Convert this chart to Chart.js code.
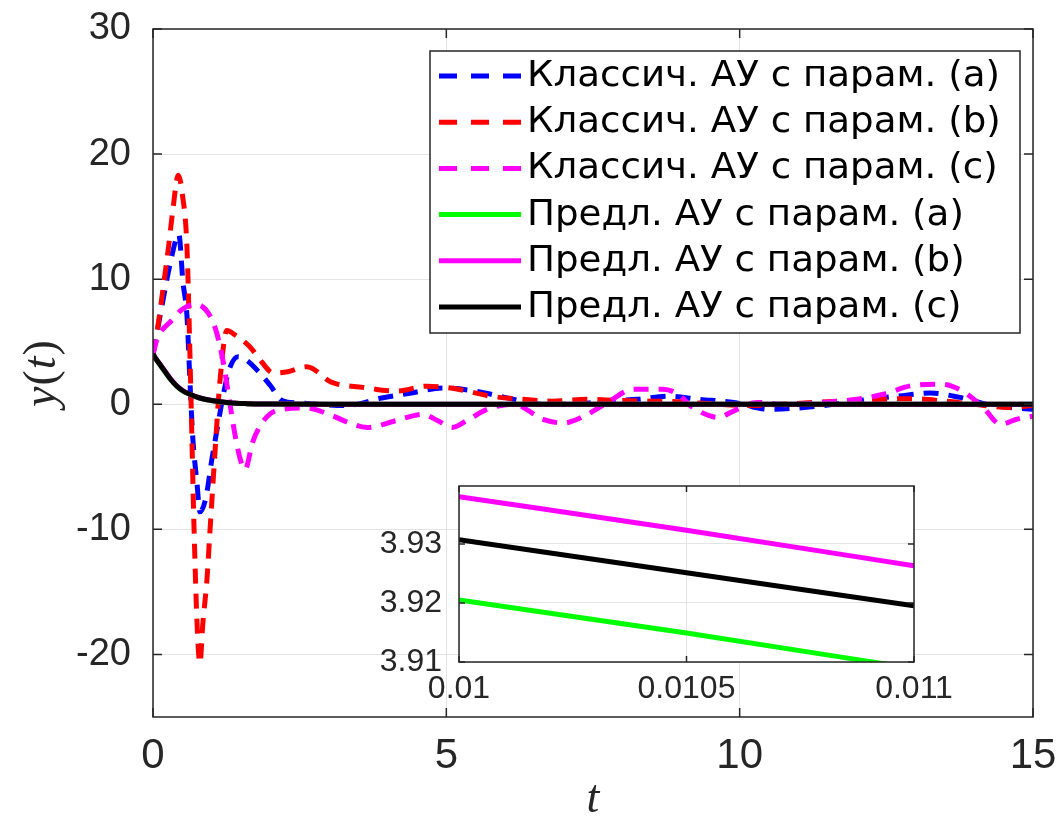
<!DOCTYPE html>
<html>
<head>
<meta charset="utf-8">
<script src="https://cdn.jsdelivr.net/npm/chart.js@4.4.0/dist/chart.umd.min.js"></script>
<style>
html,body{margin:0;padding:0;background:#fff;}
#wrap{position:relative;width:1056px;height:820px;overflow:hidden;}
#main{position:absolute;left:0;top:0;}
#inset{position:absolute;left:370px;top:470px;}
</style>
</head>
<body>
<div id="wrap">
<canvas id="main" width="1056" height="820"></canvas>
<canvas id="inset" width="620" height="250"></canvas>
</div>
<script>
// ---------------- data ----------------
const xTicks = [0, 5, 10, 15];
const yTicks = [-20, -10, 0, 10, 20, 30];

const seriesLabels = [
  'Классич. АУ с парам. (a)',
  'Классич. АУ с парам. (b)',
  'Классич. АУ с парам. (c)',
  'Предл. АУ с парам. (a)',
  'Предл. АУ с парам. (b)',
  'Предл. АУ с парам. (c)'
];

const tClassicA = [0, 0.15, 0.3, 0.44, 0.51, 0.58, 0.63, 0.68, 0.75, 0.8, 0.9, 1.0, 1.1, 1.2, 1.3, 1.45, 1.6, 1.82, 2.0, 2.2, 2.5, 2.8, 3.3, 3.9, 4.4, 4.95, 5.5, 6.0, 6.65, 7.15, 7.7, 8.25, 8.8, 9.3, 9.9, 10.5, 11.0, 11.6, 12.2, 12.7, 13.25, 13.75, 14.3, 15];
const yClassicA = [4, 7.8, 11.4, 13.6, 9.8, 7, 1.8, -2.8, -6.3, -8.6, -7.5, -4.5, -1.8, 0.8, 2.8, 3.8, 3.5, 2.5, 1.5, 0.3, 0.1, 0.0, -0.1, 0.5, 0.9, 1.3, 1.05, 0.55, 0, 0, 0.25, 0.4, 0.65, 0.4, 0.15, -0.4, -0.3, 0, 0.4, 0.65, 0.9, 0.55, -0.1, -0.4];

const tClassicB = [0, 0.07, 0.17, 0.26, 0.34, 0.43, 0.5, 0.58, 0.64, 0.7, 0.76, 0.8, 0.85, 0.92, 0.97, 1.06, 1.14, 1.26, 1.38, 1.65, 1.85, 2.05, 2.3, 2.62, 3.05, 3.58, 4.15, 4.67, 5.2, 5.75, 6.3, 6.8, 7.4, 7.95, 8.5, 9.0, 9.6, 10.2, 10.7, 11.3, 11.9, 12.45, 12.9, 13.5, 14.0, 14.6, 15];
const yClassicB = [4, 5.8, 9.2, 12.4, 15.6, 18.3, 16.8, 12.4, 2, -10, -18.5, -20.7, -17.5, -14, -10.2, -3.6, 1.8, 5.9, 5.6, 4.6, 3.4, 2.5, 2.6, 3.0, 1.75, 1.35, 1.05, 1.45, 1.2, 0.65, 0.4, 0.25, 0.4, 0.3, 0.25, 0.2, 0, -0.1, 0.0, 0.15, 0.3, 0.4, 0.45, 0.25, 0, -0.25, -0.1];

const tClassicC = [0, 0.07, 0.34, 0.5, 0.74, 0.94, 1.08, 1.2, 1.31, 1.4, 1.5, 1.57, 1.7, 1.94, 2.2, 2.6, 3.05, 3.3, 3.65, 4.15, 4.6, 4.85, 5.1, 5.35, 5.7, 6.15, 6.65, 7.0, 7.35, 7.7, 8.2, 8.7, 8.95, 9.2, 9.65, 9.85, 10.3, 10.85, 11.4, 12.0, 12.45, 12.95, 13.45, 13.8, 14.15, 14.45, 14.72, 15];
const yClassicC = [4, 5.2, 6.8, 7.6, 8.0, 7.3, 5.8, 3.3, 0.1, -2.5, -4.6, -5.2, -3.0, -1.0, -0.4, -0.3, -0.9, -1.4, -1.85, -1.3, -0.8, -1.3, -1.85, -1.3, -0.4, 0, -1.2, -1.5, -0.95, 0, 1.2, 1.2, 0.8, -0.25, -1.05, -0.65, 0.15, -0.05, 0.15, 0.4, 0.8, 1.5, 1.6, 1.05, -0.25, -1.6, -1.2, -0.95];

const tProposed = [0, 0.01, 0.1, 0.2, 0.3, 0.4, 0.5, 0.63, 0.8, 1.0, 1.3, 1.6, 2.0, 3.0, 15];
const yProposedA = [4.03, 3.9205, 3.28, 2.62, 1.98, 1.46, 1.08, 0.78, 0.48, 0.28, 0.11, 0.05, 0.02, 0, 0];
const yProposedB = [4.05, 3.938, 3.32, 2.68, 2.03, 1.5, 1.12, 0.8, 0.5, 0.3, 0.12, 0.05, 0.02, 0, 0];
const yProposedC = [4.05, 3.9307, 3.3, 2.65, 2.0, 1.48, 1.1, 0.8, 0.5, 0.3, 0.12, 0.05, 0.02, 0, 0];

// inset (zoom) data
const insetT = [0.01, 0.0105, 0.011];
const insetA = [3.9205, 3.9149, 3.9089];
const insetB = [3.9380, 3.9323, 3.9263];
const insetC = [3.9307, 3.9251, 3.9195];
const insetXTicks = [0.01, 0.0105, 0.011];
const insetXTickLabels = ['0.01', '0.0105', '0.011'];
const insetYTicks = [3.91, 3.92, 3.93];
const insetYTickLabels = ['3.91', '3.92', '3.93'];

// ---------------- helpers ----------------
const pts = (xs, ys) => xs.map((x, i) => ({x: x, y: ys[i]}));
const AXIS = '#262626';
const GRID = '#e4e4e4';
const DASH = [15, 10];

function lineDs(label, xs, ys, color, dashed, order) {
  return {
    label: label, data: pts(xs, ys), borderColor: color, backgroundColor: color,
    borderWidth: 5, borderDash: dashed ? DASH : [], pointRadius: 0,
    cubicInterpolationMode: 'monotone', fill: false, order: order,
    borderCapStyle: 'butt', borderJoinStyle: 'round'
  };
}

function noPadX(s, h) { s.height = h; s.paddingLeft = 0; s.paddingRight = 0; s.paddingTop = 0; s.paddingBottom = 0; }
function noPadY(s, w) { s.width = w; s.paddingLeft = 0; s.paddingRight = 0; s.paddingTop = 0; s.paddingBottom = 0; }

function drawFrame(chart, xVals, yVals, len) {
  const ctx = chart.ctx, a = chart.chartArea;
  const xs = chart.scales.x, ys = chart.scales.y;
  ctx.save();
  ctx.strokeStyle = AXIS;
  ctx.lineWidth = 1.5;
  ctx.setLineDash([]);
  ctx.strokeRect(a.left, a.top, a.right - a.left, a.bottom - a.top);
  ctx.beginPath();
  xVals.forEach(v => {
    const px = xs.getPixelForValue(v);
    ctx.moveTo(px, a.bottom); ctx.lineTo(px, a.bottom - len);
    ctx.moveTo(px, a.top); ctx.lineTo(px, a.top + len);
  });
  yVals.forEach(v => {
    const py = ys.getPixelForValue(v);
    ctx.moveTo(a.left, py); ctx.lineTo(a.left + len, py);
    ctx.moveTo(a.right, py); ctx.lineTo(a.right - len, py);
  });
  ctx.stroke();
  ctx.restore();
}

// ---------------- main chart ----------------
const mainPlugin = {
  id: 'mainDecor',
  beforeDraw(chart) {
    const ctx = chart.ctx;
    ctx.save(); ctx.fillStyle = '#fff'; ctx.fillRect(0, 0, chart.width, chart.height); ctx.restore();
  },
  afterDraw(chart) {
    const ctx = chart.ctx, a = chart.chartArea;
    drawFrame(chart, xTicks, yTicks, 9);

    // legend
    ctx.save();
    const bx = 430, by = 51, bw = 590, bh = 282;
    ctx.fillStyle = '#fff';
    ctx.fillRect(bx, by, bw, bh);
    ctx.strokeStyle = AXIS; ctx.lineWidth = 1.5;
    ctx.strokeRect(bx, by, bw, bh);
    ctx.font = '35px "DejaVu Sans"';
    const sx = 473 / ctx.measureText(chart.data.datasets[0].label).width;
    ctx.textBaseline = 'middle';
    ctx.textAlign = 'left';
    chart.data.datasets.forEach((ds, i) => {
      const yy = 76 + i * 46.2;
      ctx.beginPath();
      ctx.strokeStyle = ds.borderColor;
      ctx.lineWidth = 5;
      ctx.lineCap = 'butt';
      ctx.setLineDash(ds.borderDash.length ? [18, 14] : []);
      ctx.moveTo(439, yy); ctx.lineTo(521, yy);
      ctx.stroke();
      ctx.setLineDash([]);
      ctx.fillStyle = '#000';
      ctx.save();
      ctx.translate(527, yy + 1);
      ctx.scale(sx, 1);
      ctx.fillText(ds.label, 0, 0);
      ctx.restore();
    });

    // axis titles
    ctx.fillStyle = AXIS;
    const fs = 46;
    const ital = 'italic ' + fs + 'px "Liberation Serif"';
    const reg = fs + 'px "Liberation Serif"';
    ctx.font = ital;
    ctx.textAlign = 'center';
    ctx.textBaseline = 'middle';
    ctx.fillText('t', (a.left + a.right) / 2, 800);
    const parts = [['y', ital], ['(', reg], ['t', ital], [')', reg]];
    let total = 0;
    parts.forEach(p => { ctx.font = p[1]; total += ctx.measureText(p[0]).width + 1; });
    ctx.translate(43, (a.top + a.bottom) / 2);
    ctx.rotate(-Math.PI / 2);
    ctx.textAlign = 'left';
    ctx.textBaseline = 'alphabetic';
    let cx = -total / 2;
    parts.forEach(p => { ctx.font = p[1]; ctx.fillText(p[0], cx, 12); cx += ctx.measureText(p[0]).width + 1; });
    ctx.restore();
  }
};

new Chart(document.getElementById('main'), {
  type: 'line',
  data: {
    datasets: [
      lineDs(seriesLabels[0], tClassicA, yClassicA, '#0000ff', true, 5),
      lineDs(seriesLabels[1], tClassicB, yClassicB, '#ff0000', true, 4),
      lineDs(seriesLabels[2], tClassicC, yClassicC, '#ff00ff', true, 3),
      lineDs(seriesLabels[3], tProposed, yProposedA, '#00ff00', false, 2),
      lineDs(seriesLabels[4], tProposed, yProposedB, '#ff00ff', false, 1),
      lineDs(seriesLabels[5], tProposed, yProposedC, '#000000', false, 0)
    ]
  },
  options: {
    responsive: false, animation: false, events: [],
    layout: {padding: {top: 29, right: 23, bottom: 0, left: 0}},
    plugins: {legend: {display: false}, tooltip: {enabled: false}},
    scales: {
      x: {
        type: 'linear', min: 0, max: 15,
        afterBuildTicks: s => { s.ticks = xTicks.map(v => ({value: v})); },
        afterFit: s => noPadX(s, 103),
        grid: {color: GRID, lineWidth: 1, drawTicks: false},
        border: {display: false},
        ticks: {color: AXIS, font: {family: 'Liberation Sans', size: 42}, padding: 14, maxRotation: 0,
                callback: v => String(v)}
      },
      y: {
        type: 'linear', min: -25, max: 30,
        afterBuildTicks: s => { s.ticks = yTicks.map(v => ({value: v})); },
        afterFit: s => noPadY(s, 153),
        grid: {color: GRID, lineWidth: 1, drawTicks: false},
        border: {display: false},
        ticks: {color: AXIS, font: {family: 'Liberation Sans', size: 38}, padding: 22,
                callback: v => String(v)}
      }
    }
  },
  plugins: [mainPlugin]
});

// ---------------- inset chart ----------------
const insetPlugin = {
  id: 'insetDecor',
  beforeDraw(chart) {
    const ctx = chart.ctx, a = chart.chartArea;
    ctx.save(); ctx.fillStyle = '#fff'; ctx.fillRect(a.left, a.top, a.right - a.left, a.bottom - a.top); ctx.restore();
  },
  afterDraw(chart) {
    drawFrame(chart, insetXTicks, insetYTicks, 6);
  }
};

new Chart(document.getElementById('inset'), {
  type: 'line',
  data: {
    datasets: [
      lineDs('a', insetT, insetA, '#00ff00', false, 2),
      lineDs('b', insetT, insetB, '#ff00ff', false, 1),
      lineDs('c', insetT, insetC, '#000000', false, 0)
    ]
  },
  options: {
    responsive: false, animation: false, events: [],
    layout: {padding: {top: 16, right: 76, bottom: 0, left: 0}},
    plugins: {legend: {display: false}, tooltip: {enabled: false}},
    scales: {
      x: {
        type: 'linear', min: 0.01, max: 0.011,
        afterBuildTicks: s => { s.ticks = insetXTicks.map(v => ({value: v})); },
        afterFit: s => noPadX(s, 58),
        grid: {color: GRID, lineWidth: 1, drawTicks: false},
        border: {display: false},
        ticks: {color: AXIS, font: {family: 'Liberation Sans', size: 32}, padding: 8, maxRotation: 0,
                callback: (v, i) => insetXTickLabels[i]}
      },
      y: {
        type: 'linear', min: 3.91, max: 3.9398,
        afterBuildTicks: s => { s.ticks = insetYTicks.map(v => ({value: v})); },
        afterFit: s => noPadY(s, 89),
        grid: {color: GRID, lineWidth: 1, drawTicks: false},
        border: {display: false},
        ticks: {color: AXIS, font: {family: 'Liberation Sans', size: 32}, padding: 17,
                callback: (v, i) => insetYTickLabels[i]}
      }
    }
  },
  plugins: [insetPlugin]
});
</script>
</body>
</html>
